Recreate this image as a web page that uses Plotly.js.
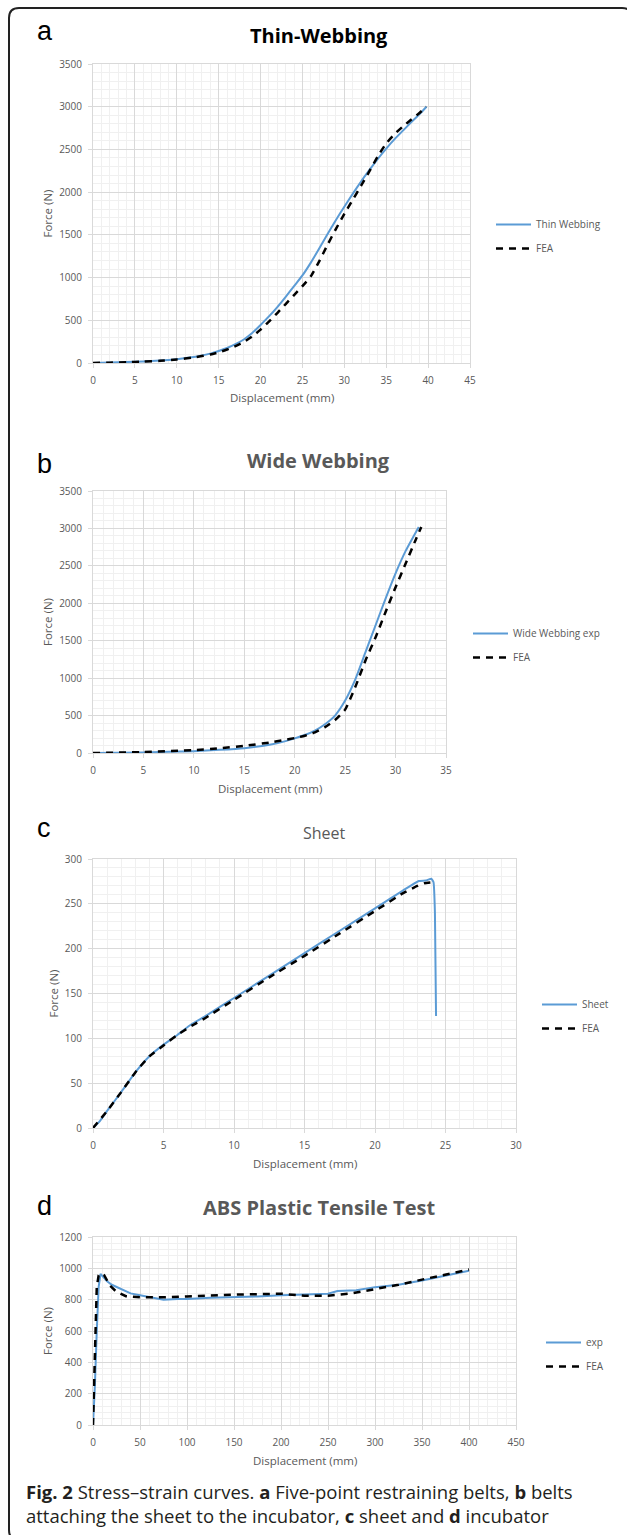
<!DOCTYPE html>
<html><head><meta charset="utf-8">
<script src="https://cdn.plot.ly/plotly-3.0.1.min.js"></script>
<style>html,body{margin:0;padding:0;background:#fff;}#chart{width:627px;height:1535px;}</style>
</head><body><div id="chart"></div>
<script>
// ---------- data ----------
// a  Thin-Webbing
const thinDispExp  = [0, 2, 4, 6, 8, 10, 12, 13, 14, 15, 16, 17, 18, 19, 20, 21, 22, 23, 24, 25, 26, 27, 28, 29, 30, 31, 32, 33, 34, 35, 36, 37, 38, 39, 39.8];
const thinForceExp = [0, 5, 11, 18, 28, 45, 70, 88, 110, 140, 175, 220, 275, 350, 445, 545, 655, 775, 900, 1025, 1175, 1340, 1510, 1675, 1830, 1980, 2125, 2260, 2390, 2510, 2620, 2720, 2820, 2915, 3000];
const thinDispFea  = [0, 2, 4, 6, 8, 10, 12, 14, 15, 16, 17, 18, 19, 20, 21, 22, 23, 24, 25, 26, 27, 28, 29, 30, 31, 32, 33, 34, 35, 36, 37, 38, 39, 39.8];
const thinForceFea = [0, 4, 9, 16, 26, 42, 64, 100, 125, 158, 198, 245, 310, 390, 485, 585, 690, 795, 900, 1015, 1190, 1385, 1570, 1745, 1910, 2075, 2245, 2420, 2570, 2680, 2770, 2850, 2930, 3000];
// b  Wide Webbing
const wideDispExp  = [0, 5, 10, 12.5, 15, 17.5, 19, 20, 21, 22, 23, 24, 25, 26, 27, 28, 29, 30, 31, 32.3];
const wideForceExp = [0, 8, 25, 42, 65, 110, 155, 195, 240, 300, 385, 500, 700, 980, 1340, 1700, 2060, 2400, 2700, 3020];
const wideDispFea  = [0, 5, 10, 12.5, 15, 17.5, 19, 20, 21, 22, 23, 24, 25, 26, 27, 28, 29, 30, 31, 32, 32.55];
const wideForceFea = [0, 12, 38, 62, 95, 140, 175, 200, 230, 275, 345, 440, 580, 880, 1230, 1540, 1880, 2215, 2530, 2850, 3020];
// c  Sheet
const sheetDispExp  = [0, 0.5, 1, 2, 3, 4, 5, 6, 7, 8, 9, 10, 12.5, 15, 17.5, 20, 22, 23.1, 23.6, 24.0, 24.15, 24.25, 24.33];
const sheetForceExp = [0, 8, 19, 40, 62, 80, 93, 104, 116, 125, 135, 145, 170, 195, 220, 245, 265, 275.5, 276, 278, 274, 240, 125];
const sheetDispFea  = [0, 1, 2, 3, 4, 5, 6, 7, 8, 10, 12.5, 15, 17.5, 20, 22, 23, 23.5, 24.1];
const sheetForceFea = [0, 19, 40, 62, 80, 92, 104, 114, 123, 143, 168, 192, 217, 242, 262, 270, 273, 274];
// d  ABS Plastic Tensile Test
const absDispExp  = [0, 2, 4, 6, 8, 10, 15, 20, 30, 40, 50, 60, 75, 90, 100, 125, 150, 175, 200, 225, 250, 260, 280, 300, 325, 350, 375, 400];
const absForceExp = [0, 250, 600, 880, 965, 950, 918, 895, 865, 840, 828, 815, 800, 805, 805, 812, 815, 820, 828, 832, 838, 855, 860, 880, 895, 922, 955, 985];
const absDispFea  = [0, 2, 4, 6, 8, 12, 18, 25, 35, 50, 75, 100, 125, 150, 175, 200, 225, 250, 275, 300, 325, 350, 375, 400];
const absForceFea = [0, 400, 880, 955, 968, 955, 890, 850, 822, 815, 815, 820, 828, 832, 835, 838, 825, 825, 840, 868, 895, 928, 962, 992];

// ---------- layout helpers ----------
const W = 627, H = 1535;
const px = x => x / W;
const py = y => 1 - y / H;
const FONT = 'Open Sans, sans-serif';
const GREY = '#595959';
const BLUE = '#5b9bd5';

function axisBase(dtick, minor, range, anchor) {
  return {
    range: range, anchor: anchor,
    tick0: 0, dtick: dtick, showgrid: true, gridcolor: '#d9d9d9', gridwidth: 1,
    minor: {tick0: 0, dtick: minor, showgrid: true, gridcolor: '#f0f0f0', gridwidth: 1},
    showline: true, linecolor: '#d9d9d9', linewidth: 1, mirror: true,
    ticks: 'outside', ticklen: 4, tickcolor: '#d9d9d9', ticklabelstandoff: 4,
    tickfont: {family: FONT, size: 10, color: GREY}, zeroline: false, fixedrange: true
  };
}
function xAxis(l, r, range, dtick, minor, anchor) {
  return Object.assign(axisBase(dtick, minor, range, anchor), {domain: [px(l), px(r)]});
}
function yAxis(t, b, range, dtick, minor, anchor) {
  return Object.assign(axisBase(dtick, minor, range, anchor), {domain: [py(b), py(t)]});
}
function expTrace(x, y, name, xa, ya, leg, shape, sm) {
  return {x: x, y: y, name: name, type: 'scatter', mode: 'lines', xaxis: xa, yaxis: ya,
    legend: leg, legendgroup: leg + 'e',
    line: {color: BLUE, width: 2, shape: shape, smoothing: sm}};
}
function feaTrace(x, y, xa, ya, leg, shape, sm) {
  return {x: x, y: y, name: 'FEA', type: 'scatter', mode: 'lines', xaxis: xa, yaxis: ya,
    legend: leg, legendgroup: leg + 'f',
    line: {color: '#000000', width: 2.5, dash: '7px,6px', shape: shape, smoothing: sm}};
}

const data = [
  expTrace(thinDispExp, thinForceExp, 'Thin Webbing', 'x', 'y', 'legend', 'spline', 0.5),
  feaTrace(thinDispFea, thinForceFea, 'x', 'y', 'legend', 'spline', 0.5),
  expTrace(wideDispExp, wideForceExp, 'Wide Webbing exp', 'x2', 'y2', 'legend2', 'spline', 0.5),
  feaTrace(wideDispFea, wideForceFea, 'x2', 'y2', 'legend2', 'spline', 0.5),
  expTrace(sheetDispExp, sheetForceExp, 'Sheet', 'x3', 'y3', 'legend3', 'spline', 0.3),
  feaTrace(sheetDispFea, sheetForceFea, 'x3', 'y3', 'legend3', 'spline', 0.4),
  expTrace(absDispExp, absForceExp, 'exp', 'x4', 'y4', 'legend4', 'linear', 0),
  feaTrace(absDispFea, absForceFea, 'x4', 'y4', 'legend4', 'linear', 0)
];

function legendAt(x, y) {
  return {x: px(x), y: py(y), xanchor: 'left', yanchor: 'top',
    font: {family: FONT, size: 10, color: GREY}, bgcolor: 'rgba(0,0,0,0)',
    borderwidth: 0, itemwidth: 35, tracegroupgap: 5, traceorder: 'grouped'};
}

function ann(text, x, y, opts) {
  return Object.assign({text: text, x: px(x), y: py(y), xref: 'paper', yref: 'paper',
    showarrow: false, xanchor: 'center', yanchor: 'middle'}, opts || {});
}
const letterFont = {family: 'Liberation Sans, Arial, sans-serif', size: 27, color: '#000'};
const titleBold = c => ({family: FONT, size: 20, color: c, weight: 700});
const axFont = {family: FONT, size: 11.5, color: GREY};
const capFont = {family: FONT, size: 18.5, color: '#231f20'};

const annotations = [
  ann('a', 35, 31, {xanchor: 'left', font: letterFont}),
  ann('b', 35, 464, {xanchor: 'left', font: letterFont}),
  ann('c', 35, 828, {xanchor: 'left', font: letterFont}),
  ann('d', 35, 1206, {xanchor: 'left', font: letterFont}),
  ann('<b>Thin-Webbing</b>', 318.5, 35, {font: titleBold('#000000')}),
  ann('<b>Wide Webbing</b>', 318.5, 461, {font: titleBold(GREY)}),
  ann('Sheet', 324, 833, {font: {family: FONT, size: 16, color: GREY}}),
  ann('<b>ABS Plastic Tensile Test</b>', 318.5, 1207, {font: titleBold(GREY)}),
  ann('Displacement (mm)', 281.5, 397, {font: axFont}),
  ann('Displacement (mm)', 269.5, 788, {font: axFont}),
  ann('Displacement (mm)', 304.5, 1163, {font: axFont}),
  ann('Displacement (mm)', 304.5, 1460, {font: axFont}),
  ann('Force (N)', 47, 213.5, {font: axFont, textangle: -90}),
  ann('Force (N)', 47, 622, {font: axFont, textangle: -90}),
  ann('Force (N)', 53, 993.5, {font: axFont, textangle: -90}),
  ann('Force (N)', 47, 1331, {font: axFont, textangle: -90}),
  ann('<b>Fig. 2</b> Stress–strain curves. <b>a</b> Five-point restraining belts, <b>b</b> belts', 24, 1491, {xanchor: 'left', font: capFont}),
  ann('attaching the sheet to the incubator, <b>c</b> sheet and <b>d</b> incubator', 24, 1515, {xanchor: 'left', font: capFont})
];

// rounded frame
const L = px(9), R = px(632), T = py(8), B = py(1540), rx = 10 / W, ry = 10 / H;
const framePath = `M${L+rx},${T} L${R-rx},${T} Q${R},${T} ${R},${T-ry} L${R},${B+ry} Q${R},${B} ${R-rx},${B} L${L+rx},${B} Q${L},${B} ${L},${B+ry} L${L},${T-ry} Q${L},${T} ${L+rx},${T} Z`;

const layout = {
  width: W, height: H, margin: {l: 0, r: 0, t: 0, b: 0},
  paper_bgcolor: '#ffffff', plot_bgcolor: '#ffffff',
  font: {family: FONT, color: GREY},
  showlegend: true,
  xaxis:  xAxis(93, 470, [0, 45], 5, 1, 'y'),
  yaxis:  yAxis(64, 363, [0, 3500], 500, 100, 'x'),
  xaxis2: xAxis(93, 446, [0, 35], 5, 1, 'y2'),
  yaxis2: yAxis(491, 753, [0, 3500], 500, 100, 'x2'),
  xaxis3: xAxis(93, 516, [0, 30], 5, 1, 'y3'),
  yaxis3: yAxis(859, 1128, [0, 300], 50, 10, 'x3'),
  xaxis4: xAxis(93, 516, [0, 450], 50, 10, 'y4'),
  yaxis4: yAxis(1237, 1425, [0, 1200], 200, 40, 'x4'),
  legend:  legendAt(491, 210),
  legend2: legendAt(468, 619),
  legend3: legendAt(537, 990),
  legend4: legendAt(541, 1328),
  annotations: annotations,
  shapes: [{type: 'path', path: framePath, xref: 'paper', yref: 'paper',
    line: {color: '#222222', width: 2}, fillcolor: 'rgba(0,0,0,0)'}]
};

Plotly.newPlot('chart', data, layout, {staticPlot: true, displayModeBar: false});
</script>
</body></html>
